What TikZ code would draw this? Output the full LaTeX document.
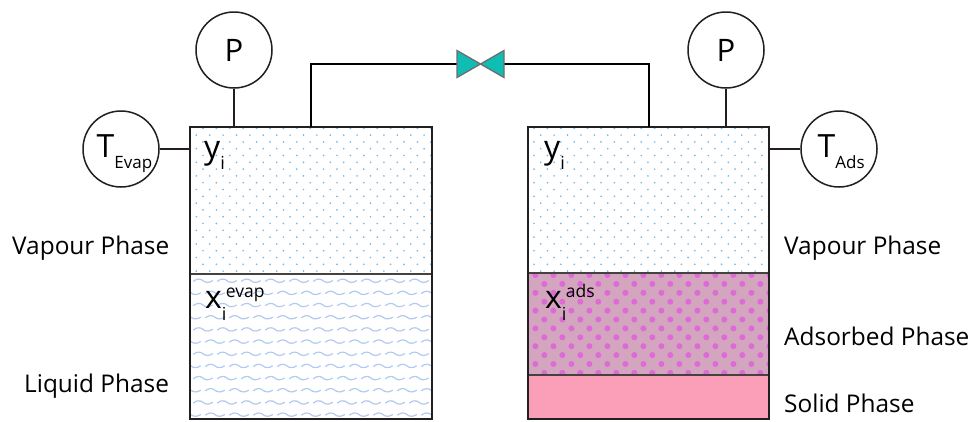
\documentclass[tikz,border=0pt]{standalone}
\usepackage{fontspec}
\setmainfont{Open Sans}
\definecolor{inkc}{HTML}{231F20}
\definecolor{dotb}{HTML}{78B8E6}
\definecolor{wavec}{HTML}{B2CAF0}
\definecolor{adsbg}{HTML}{D3A5BE}
\definecolor{adsdot}{HTML}{DD6AD6}
\definecolor{solidc}{HTML}{FB9FB8}
\definecolor{tealc}{HTML}{10BDB5}
\newcommand{\fsz}[1]{\fontsize{#1}{#1}\selectfont}
\tikzset{
  tankbox/.style={draw=inkc,line width=2.4pt,minimum width=242pt,minimum height=292pt,inner sep=0pt,outer sep=0pt,anchor=north west},
  gauge/.style={circle,draw=inkc,line width=1.5pt,minimum size=76pt,inner sep=0pt,fill=white},
  thinline/.style={draw=inkc,line width=1.3pt},
  pipe/.style={draw=black,line width=2.3pt},
  divider/.style={draw=inkc!85,line width=1.3pt},
  phase/.style={anchor=west,inner sep=0pt,font=\fsz{24.4}},
  symb/.style={inner sep=0pt,anchor=base west,font=\fsz{32}},
  gaugetxt/.style={inner sep=0pt,anchor=base west,font=\fsz{32}},
  valvetri/.style={fill=tealc,draw=inkc!65,line width=1.3pt,line join=miter}
}
\begin{document}
\begin{tikzpicture}[x=1pt,y=-1pt]
\useasboundingbox (0,0) rectangle (971,421);
% left vapour dots
\begin{scope}
\clip (190,127) rectangle (432,274);
\foreach \r in {0,...,21}{
  \pgfmathsetmacro{\yy}{128.3+6.8*\r}
  \pgfmathsetmacro{\xo}{mod(\r,2)==0 ? 203 : 196.3}
  \foreach \c in {0,...,18}{
    \fill[dotb] ({\xo+13.4*\c},\yy) circle (0.95pt);
  }
}
\end{scope}
% right vapour dots
\begin{scope}
\clip (528,127) rectangle (769,273);
\foreach \r in {0,...,21}{
  \pgfmathsetmacro{\yy}{128.3+6.8*\r}
  \pgfmathsetmacro{\xo}{mod(\r,2)==0 ? 534 : 540.7}
  \foreach \c in {0,...,18}{
    \fill[dotb] ({\xo+13.4*\c},\yy) circle (0.95pt);
  }
}
\end{scope}
% liquid waves
\begin{scope}
\clip (190,274) rectangle (432,420);
\foreach \r in {0,...,11}{
  \pgfmathsetmacro{\yy}{280.7+12.17*\r}
  \pgfmathsetmacro{\xo}{mod(\r,2)==0 ? 203 : 191}
  \foreach \c in {0,...,10}{
    \pgfmathsetmacro{\xx}{\xo+24*\c}
    \draw[wavec,line width=1.2pt,line cap=round] (\xx-9.5,\yy+0.5) .. controls (\xx-6,\yy-2.5) and (\xx-2,\yy-2) .. (\xx,\yy) .. controls (\xx+2,\yy+2) and (\xx+6,\yy+2.5) .. (\xx+9.5,\yy);
  }
}
\end{scope}
% adsorbed phase
\fill[adsbg] (528,273) rectangle (769,375);
\begin{scope}
\clip (528,273) rectangle (769,375);
\foreach \r in {0,...,11}{
  \pgfmathsetmacro{\yy}{275+8.9*\r}
  \pgfmathsetmacro{\xo}{mod(\r,2)==0 ? 535.4 : 544.3}
  \foreach \c in {0,...,13}{
    \fill[adsdot] ({\xo+18*\c},\yy) circle (3pt);
  }
}
\end{scope}
% solid phase
\fill[solidc] (528,375) rectangle (769,419);
% dividers
\coordinate (dl1) at (190,274); \coordinate (dl2) at (432,274);
\coordinate (dr1) at (528,273); \coordinate (dr2) at (769,273);
\coordinate (ds1) at (528,375); \coordinate (ds2) at (769,375);
\draw[divider] (dl1) -- (dl2);
\draw[divider] (dr1) -- (dr2);
\draw[divider] (ds1) -- (ds2);
% tanks
\node[tankbox] (ltank) at (190,127) {};
\node[tankbox,minimum width=241pt] (rtank) at (528,127) {};
% gauges
\node[gauge] (pl) at (234,50) {\fsz{31}P};
\node[gauge] (tl) at (121,149) {};
\node[gauge] (pr) at (726,50) {\fsz{31}P};
\node[gauge] (tr) at (839,149) {};
\node[gaugetxt] (tltxt) at (96.5,157) {T\raisebox{-11pt}{\fsz{17}Evap}};
\node[gaugetxt] (trtxt) at (817.5,157) {T\raisebox{-11pt}{\fsz{17}Ads}};
\draw[thinline] (pl) -- (pl |- ltank.north);
\draw[thinline] (pr) -- (pr |- rtank.north);
\draw[thinline] (tl) -- (tl -| ltank.west);
\draw[thinline] (tr) -- (tr -| rtank.east);
% valve and pipes
\coordinate (valve) at (480.5,64);
\coordinate (vl) at (457,64);
\coordinate (vr) at (504,64);
\coordinate (lp) at (311,127);
\coordinate (rp) at (649,127);
\draw[pipe] (lp) |- (vl);
\draw[pipe] (rp) |- (vr);
\draw[valvetri] (vl |- 0,50.5) -- (valve) -- (vl |- 0,77.5) -- cycle;
\draw[valvetri] (vr |- 0,50.5) -- (valve) -- (vr |- 0,77.5) -- cycle;
% symbols
\node[symb] (yl) at (204,158) {y\raisebox{-11pt}{\fsz{18}i}};
\node[symb] (yr) at (544,158) {y\raisebox{-11pt}{\fsz{18}i}};
\node[symb] (xl) at (205,308) {x\rlap{\raisebox{-12pt}{\fsz{18}i}}\kern4pt\raisebox{11pt}{\fsz{17.5}evap}};
\node[symb] (xr) at (545,308) {x\rlap{\raisebox{-12pt}{\fsz{18}i}}\kern4pt\raisebox{11pt}{\fsz{17.5}ads}};
% phase labels
\node[phase] (v1) at (12,248) {Vapour Phase};
\node[phase] (l1) at (24,386) {Liquid Phase};
\node[phase] (v2) at (784,248) {Vapour Phase};
\node[phase] (a2) at (784,336.5) {Adsorbed Phase};
\node[phase] (s2) at (784,403.5) {Solid Phase};
\end{tikzpicture}
\end{document}
